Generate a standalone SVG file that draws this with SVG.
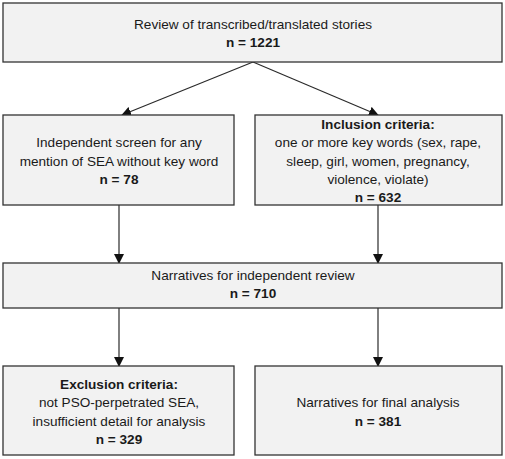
<svg xmlns="http://www.w3.org/2000/svg" width="505" height="459" viewBox="0 0 505 459">
<defs>
<style>
.box{fill:#f2f2f2;stroke:#333333;stroke-width:1.3}
text{font-family:"Liberation Sans",Arial,sans-serif;font-size:13.6px;fill:#1a1a1a;text-anchor:middle}
.b{font-weight:bold}
.c{stroke:#2a2a2a;stroke-width:1.2;fill:none}
</style>
<marker id="ah" markerWidth="10" markerHeight="10" refX="9" refY="5" orient="auto" markerUnits="userSpaceOnUse">
<path d="M0,0 L10,5 L0,10 Z" fill="#111"/>
</marker>
</defs>
<g id="connectors">
<line class="c" x1="253" y1="62" x2="122" y2="115" marker-end="url(#ah)"/>
<line class="c" x1="253" y1="62" x2="378" y2="115" marker-end="url(#ah)"/>
<line class="c" x1="119" y1="205" x2="119" y2="263" marker-end="url(#ah)"/>
<line class="c" x1="378" y1="205" x2="378" y2="263" marker-end="url(#ah)"/>
<line class="c" x1="119" y1="308" x2="119" y2="366" marker-end="url(#ah)"/>
<line class="c" x1="378" y1="308" x2="378" y2="366" marker-end="url(#ah)"/>
</g>
<g id="review">
<rect class="box" x="3" y="3" width="499" height="59"/>
<text x="253" y="29">Review of transcribed/translated stories</text>
<text x="253" y="47" class="b">n = 1221</text>
</g>
<g id="screen">
<rect class="box" x="3" y="115" width="231" height="90"/>
<text x="119" y="147">Independent screen for any</text>
<text x="119" y="166">mention of SEA without key word</text>
<text x="119" y="184" class="b">n = 78</text>
</g>
<g id="inclusion">
<rect class="box" x="255" y="115" width="247" height="90"/>
<text x="378" y="129" class="b">Inclusion criteria:</text>
<text x="378" y="147">one or more key words (sex, rape,</text>
<text x="378" y="166">sleep, girl, women, pregnancy,</text>
<text x="378" y="184">violence, violate)</text>
<text x="378" y="202" class="b">n = 632</text>
</g>
<g id="narratives">
<rect class="box" x="3" y="263" width="499" height="45"/>
<text x="253" y="280">Narratives for independent review</text>
<text x="253" y="298" class="b">n = 710</text>
</g>
<g id="exclusion">
<rect class="box" x="3" y="366" width="231" height="89"/>
<text x="119" y="389" class="b">Exclusion criteria:</text>
<text x="119" y="407">not PSO-perpetrated SEA,</text>
<text x="119" y="426">insufficient detail for analysis</text>
<text x="119" y="444" class="b">n = 329</text>
</g>
<g id="final">
<rect class="box" x="255" y="366" width="247" height="89"/>
<text x="378" y="407">Narratives for final analysis</text>
<text x="378" y="426" class="b">n = 381</text>
</g>
</svg>
